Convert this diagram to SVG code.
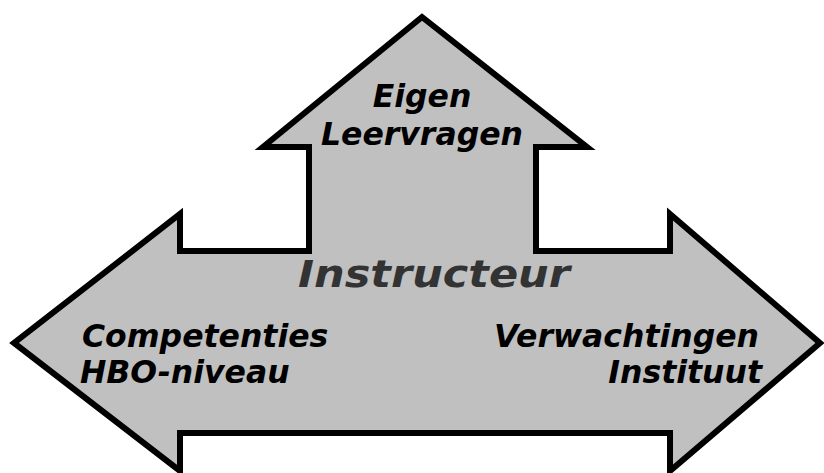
<svg xmlns="http://www.w3.org/2000/svg" width="824" height="473" viewBox="0 0 824 473">
  <style>
    .shape { fill: #c0c0c0; stroke: #000; stroke-width: 6; stroke-linejoin: miter; }
    .lbl { font-family: "DejaVu Sans", Verdana, sans-serif; font-weight: bold; font-style: italic; font-size: 31.5px; fill: #000; }
    .main { font-family: "DejaVu Sans", Verdana, sans-serif; font-weight: bold; font-style: italic; font-size: 38px; fill: #333; }
  </style>
  <rect width="824" height="473" fill="#fff"/>
  <g id="arrow">
    <path class="shape" d="M422,17 L587,147 L536,147 L536,251 L670,251 L670,214 L820,343 L670,471 L670,433 L180,433 L180,471 L14,343 L180,214 L180,251 L309,251 L309,147 L263,147 Z"/>
  </g>
  <g id="top-label">
    <text class="lbl" x="422" y="107" text-anchor="middle">Eigen</text>
    <text class="lbl" x="422" y="145" text-anchor="middle">Leervragen</text>
  </g>
  <g id="center-label">
    <text class="main" x="298" y="287" textLength="272" lengthAdjust="spacingAndGlyphs">Instructeur</text>
  </g>
  <g id="left-label">
    <text class="lbl" x="82" y="347">Competenties</text>
    <text class="lbl" x="80" y="383">HBO-niveau</text>
  </g>
  <g id="right-label">
    <text class="lbl" x="759" y="347" text-anchor="end">Verwachtingen</text>
    <text class="lbl" x="762" y="383" text-anchor="end">Instituut</text>
  </g>
</svg>
